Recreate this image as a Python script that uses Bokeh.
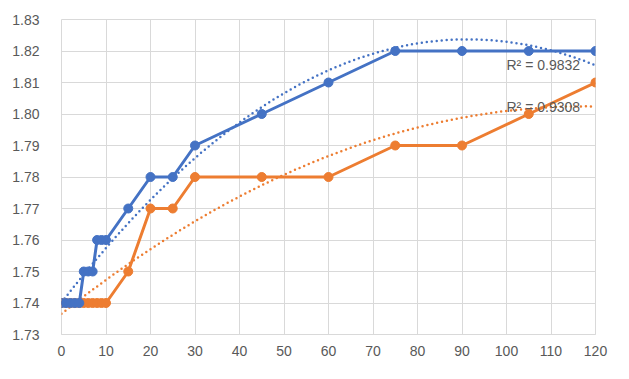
import numpy as np
from bokeh.plotting import figure
from bokeh.models import Label, SingleIntervalTicker, NumeralTickFormatter, Range1d
from bokeh.embed import file_html
from bokeh.resources import INLINE

x_blue = [0, 1, 2, 3, 4, 5, 6, 7, 8, 9, 10, 15, 20, 25, 30, 45, 60, 75, 90, 105, 120]
y_blue = [1.74, 1.74, 1.74, 1.74, 1.74, 1.75, 1.75, 1.75, 1.76, 1.76, 1.76, 1.77, 1.78, 1.78, 1.79, 1.80, 1.81, 1.82, 1.82, 1.82, 1.82]
x_orange = [0, 1, 2, 3, 4, 5, 6, 7, 8, 9, 10, 15, 20, 25, 30, 45, 60, 75, 90, 105, 120]
y_orange = [1.74, 1.74, 1.74, 1.74, 1.74, 1.74, 1.74, 1.74, 1.74, 1.74, 1.74, 1.75, 1.77, 1.77, 1.78, 1.78, 1.78, 1.79, 1.79, 1.80, 1.81]
r2_labels = ["R\u00b2 = 0.9832", "R\u00b2 = 0.9308"]

BLUE = "#4472C4"
ORANGE = "#ED7D31"
FONT = "Liberation Sans"
TXT = "#595959"
GRID = "#d9d9d9"

p = figure(width=613, height=363, output_backend="svg", toolbar_location=None,
           x_range=Range1d(0, 120), y_range=Range1d(1.73, 1.83),
           min_border_left=61, min_border_right=18, min_border_top=19, min_border_bottom=29)
p.outline_line_color = GRID
p.background_fill_color = "white"
p.border_fill_color = "white"

for ax in (p.xaxis[0], p.yaxis[0]):
    ax.major_tick_line_color = None
    ax.minor_tick_line_color = None
    ax.major_label_text_font = FONT
    ax.major_label_text_font_size = "14px"
    ax.major_label_text_color = TXT
p.xaxis[0].ticker = SingleIntervalTicker(interval=10)
p.yaxis[0].ticker = SingleIntervalTicker(interval=0.01)
p.yaxis[0].formatter = NumeralTickFormatter(format="0.00")
p.xaxis[0].axis_line_color = GRID
p.yaxis[0].axis_line_color = None
p.xaxis[0].major_label_standoff = 5
p.yaxis[0].major_label_standoff = 16
p.xgrid.grid_line_color = GRID
p.ygrid.grid_line_color = GRID
p.xgrid.ticker = SingleIntervalTicker(interval=10)
p.ygrid.ticker = SingleIntervalTicker(interval=0.01)

xs = np.linspace(0, 120, 200)
for xv, yv, c in ((x_orange, y_orange, ORANGE), (x_blue, y_blue, BLUE)):
    coef = np.polyfit(xv, yv, 2)
    p.line(xs, np.polyval(coef, xs), line_color=c, line_width=2.5, line_dash="0 5", line_cap="round")

for xv, yv, c in ((x_orange, y_orange, ORANGE), (x_blue, y_blue, BLUE)):
    p.line(xv, yv, line_color=c, line_width=3)
    p.scatter(xv, yv, size=9, fill_color=c, line_color=c)

for txt, yy in zip(r2_labels, (1.8154, 1.8021)):
    p.add_layout(Label(x=100.0, y=yy, text=txt, text_font=FONT, text_font_size="14px",
                       text_color=TXT, text_baseline="middle"))

open("out.html", "w").write(file_html(p, INLINE))
